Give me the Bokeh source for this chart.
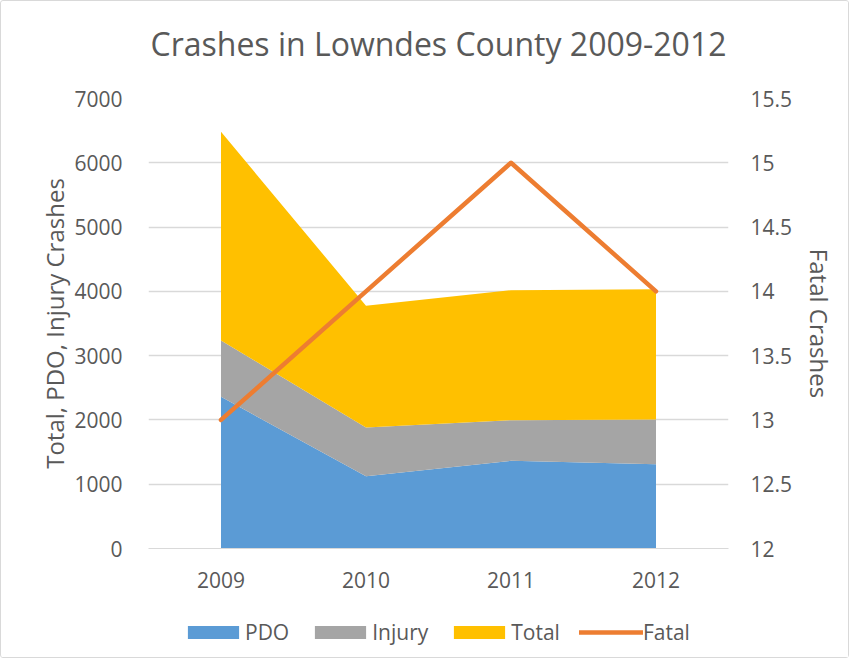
from bokeh.plotting import figure
from bokeh.layouts import column
from bokeh.models import (ColumnDataSource, FactorRange, Range1d, LinearAxis, Legend,
                          LegendItem, Label, FixedTicker)
from bokeh.embed import file_html
from bokeh.resources import INLINE

years = ["2009", "2010", "2011", "2012"]
pdo = [2359, 1125, 1364, 1311]
injury = [876, 757, 632, 696]
total = [3247, 1893, 2022, 2027]
fatal = [13, 14, 15, 14]

left_ticks = [0, 1000, 2000, 3000, 4000, 5000, 6000, 7000]
right_ticks = [12, 12.5, 13, 13.5, 14, 14.5, 15, 15.5]
right_labels = ["12", "12.5", "13", "13.5", "14", "14.5", "15", "15.5"]

series_names = ["PDO", "Injury", "Total"]
series_colors = ["#5B9BD5", "#A5A5A5", "#FFC000"]
FATAL_COLOR = "#ED7D31"
TITLE = "Crashes in Lowndes County 2009-2012"

FONT = "Open Sans"
TXT = "#595959"
GRID = "#D9D9D9"

src = ColumnDataSource(dict(year=years, PDO=pdo, Injury=injury, Total=total, Fatal=fatal))

# ---- title strip ----
tf = figure(width=847, height=80, output_backend="svg", toolbar_location=None,
            x_range=Range1d(0, 1), y_range=Range1d(0, 1),
            x_axis_location=None, y_axis_location=None,
            min_border_left=0, min_border_right=0, min_border_top=0, min_border_bottom=0,
            outline_line_color=None, background_fill_color="white",
            border_fill_color="white")
tf.xgrid.grid_line_color = None
tf.ygrid.grid_line_color = None
tf.add_layout(Label(x=290, y=17, x_units="screen", y_units="screen", text=TITLE,
                    text_align="center", text_baseline="bottom",
                    text_font=FONT, text_font_size="32px", text_color=TXT))

# ---- main chart ----
p = figure(x_range=FactorRange(*years), y_range=Range1d(0, 7000),
           width=847, height=520, output_backend="svg", toolbar_location=None,
           min_border_left=147, min_border_right=120, min_border_top=17,
           min_border_bottom=53, outline_line_color=None,
           background_fill_color="white", border_fill_color="white")
p.extra_y_ranges = {"fatal": Range1d(12, 15.5)}

areas = p.varea_stack(series_names, x="year", color=series_colors, source=src)
fl = p.line(x="year", y="Fatal", y_range_name="fatal", source=src,
            line_width=4.5, line_color=FATAL_COLOR, line_cap="round", line_join="round")

ya = p.yaxis[0]
ya.ticker = FixedTicker(ticks=left_ticks)
ya.axis_label = "Total, PDO, Injury Crashes"
xa = p.xaxis[0]
for ax in (ya, xa):
    ax.axis_line_color = None
    ax.major_tick_line_color = None
    ax.minor_tick_line_color = None
    ax.major_label_text_font = FONT
    ax.major_label_text_font_size = "21px"
    ax.major_label_text_color = TXT
    ax.axis_label_text_font = FONT
    ax.axis_label_text_font_size = "24px"
    ax.axis_label_text_color = TXT
    ax.axis_label_text_font_style = "normal"
xa.axis_line_color = GRID
xa.major_label_standoff = 17
ya.major_label_standoff = 20
ya.axis_label_standoff = 0

ra = LinearAxis(y_range_name="fatal", ticker=FixedTicker(ticks=right_ticks),
                major_label_overrides={k: v for k, v in zip(right_ticks, right_labels)},
                axis_label="Fatal Crashes")
ra.axis_line_color = None
ra.major_tick_line_color = None
ra.minor_tick_line_color = None
ra.major_label_text_font = FONT
ra.major_label_text_font_size = "21px"
ra.major_label_text_color = TXT
ra.major_label_standoff = 16
ra.axis_label_text_font = FONT
ra.axis_label_text_font_size = "24px"
ra.axis_label_text_color = TXT
ra.axis_label_text_font_style = "normal"
ra.axis_label_standoff = 8
p.add_layout(ra, "right")

p.xgrid.grid_line_color = None
p.ygrid.grid_line_color = GRID
p.ygrid.grid_line_width = 1.5

# ---- legend strip (same styles as the series) ----
lg = figure(width=847, height=56, output_backend="svg", toolbar_location=None,
            x_range=Range1d(0, 1), y_range=Range1d(0, 1),
            x_axis_location=None, y_axis_location=None,
            min_border_left=0, min_border_right=0, min_border_top=0, min_border_bottom=0,
            outline_line_color=None, background_fill_color="white",
            border_fill_color="white")
lg.xgrid.grid_line_color = None
lg.ygrid.grid_line_color = None
# swatch renderers kept outside the visible range (only their legend glyphs show)
dummy = [lg.varea(x=[2, 3], y1=[0, 0], y2=[1, 1], color=c) for c in series_colors]
dl = lg.line(x=[2, 3], y=[0.5, 0.5], line_width=4.5, line_color=FATAL_COLOR, line_cap="round")

legend = Legend(items=[LegendItem(label=n, renderers=[r]) for n, r in zip(series_names, dummy)]
                + [LegendItem(label="Fatal", renderers=[dl])],
                orientation="horizontal", location=(33, 11),
                label_text_font=FONT, label_text_font_size="21px",
                label_text_color=TXT, glyph_width=64, glyph_height=16,
                label_standoff=0, spacing=19, padding=0, margin=0,
                border_line_color=None, background_fill_alpha=0)
lg.add_layout(legend, "center")

layout = column(tf, p, lg, spacing=0)
layout.styles = {"border": "1px solid #D9D9D9", "border-radius": "3px"}

open("out.html", "w").write(file_html(layout, INLINE))
